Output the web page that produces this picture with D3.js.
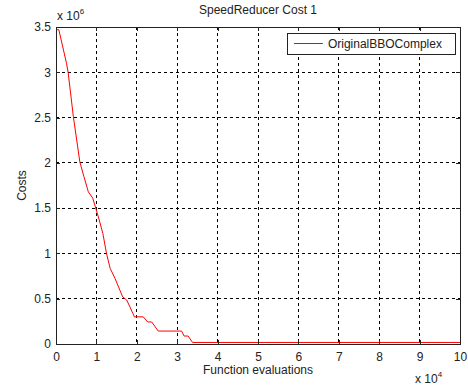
<!DOCTYPE html>
<html>
<head>
<meta charset="utf-8">
<script src="https://cdn.jsdelivr.net/npm/d3@7"></script>
<style>
  body { margin: 0; background: #fff; }
  text { font-family: "Liberation Sans", Arial, sans-serif; fill: #222; }
</style>
</head>
<body>
<svg id="chart" width="468" height="387"></svg>
<script>
// Convergence curve (x in 1e4 evals, y in 1e6 cost)
const evals = [0, 0.07, 0.26, 0.30, 0.43, 0.59, 0.69, 0.80, 0.91, 0.97, 1.07, 1.16, 1.25, 1.34, 1.46, 1.58, 1.65, 1.75, 1.83, 1.94, 2.16, 2.27, 2.37, 2.53, 3.11, 3.17, 3.27, 3.38, 10];
const costs = [3.47, 3.47, 3.10, 3.00, 2.51, 2.01, 1.85, 1.68, 1.61, 1.52, 1.37, 1.22, 1.00, 0.835, 0.725, 0.596, 0.52, 0.486, 0.41, 0.30, 0.30, 0.243, 0.243, 0.143, 0.143, 0.088, 0.088, 0.017, 0.017];
const xTicks = [0, 1, 2, 3, 4, 5, 6, 7, 8, 9, 10];
const yTicks = [0, 0.5, 1, 1.5, 2, 2.5, 3, 3.5];
const seriesName = "OriginalBBOComplex";

const svg = d3.select("#chart");
const margin = { top: 27, right: 8, bottom: 43, left: 56 };
const width = +svg.attr("width");
const height = +svg.attr("height");
const w = width - margin.left - margin.right;
const h = height - margin.top - margin.bottom;

const x = d3.scaleLinear().domain([0, 10]).range([0, w]);
const y = d3.scaleLinear().domain([0, 3.5]).range([h, 0]);

const g = svg.append("g").attr("transform", `translate(${margin.left},${margin.top})`);

// grid
g.selectAll("line.vgrid").data(xTicks.slice(1, -1)).enter().append("line")
  .attr("x1", d => x(d)).attr("x2", d => x(d)).attr("y1", 0).attr("y2", h)
  .attr("stroke", "#000").attr("stroke-dasharray", "3,3").attr("stroke-width", 1)
  .attr("shape-rendering", "crispEdges");
g.selectAll("line.hgrid").data(yTicks.slice(1, -1)).enter().append("line")
  .attr("x1", 0).attr("x2", w).attr("y1", d => y(d)).attr("y2", d => y(d))
  .attr("stroke", "#000").attr("stroke-dasharray", "3,3").attr("stroke-width", 1)
  .attr("shape-rendering", "crispEdges");

// line
const line = d3.line().x((d, i) => x(evals[i])).y(d => y(d));
g.append("path").datum(costs)
  .attr("d", line).attr("fill", "none").attr("stroke", "#ff0000").attr("stroke-width", 1);

// axes (ticks inward)
const xAxis = g.append("g").attr("transform", `translate(0,${h})`)
  .call(d3.axisBottom(x).tickValues(xTicks).tickSize(-4).tickPadding(8).tickFormat(d3.format("d")));
const yAxis = g.append("g")
  .call(d3.axisLeft(y).tickValues(yTicks).tickSize(-4).tickPadding(5).tickFormat(d => d));
g.append("g").call(d3.axisTop(x).tickValues(xTicks).tickSize(-4).tickFormat(""));
g.append("g").attr("transform", `translate(${w},0)`)
  .call(d3.axisRight(y).tickValues(yTicks).tickSize(-4).tickFormat(""));
g.selectAll(".domain, .tick line").attr("stroke", "#222").attr("shape-rendering", "crispEdges");
g.selectAll(".tick text").style("font-size", "12px").style("font-family", "Liberation Sans, Arial, sans-serif").attr("fill", "#222");

// legend
const lg = g.append("g").attr("transform", `translate(${x(5.74)},6)`);
lg.append("rect").attr("width", 168).attr("height", 21)
  .attr("fill", "#fff").attr("stroke", "#222").attr("shape-rendering", "crispEdges");
lg.append("line").attr("x1", 6).attr("x2", 35).attr("y1", 10.5).attr("y2", 10.5)
  .attr("stroke", "#ff0000");
lg.append("text").attr("x", 40).attr("y", 15).style("font-size", "12px").text(seriesName);

// titles
svg.append("text").attr("x", margin.left + w / 2).attr("y", 14)
  .attr("text-anchor", "middle").style("font-size", "12px").text("SpeedReducer Cost 1");
svg.append("text").attr("x", margin.left + w / 2).attr("y", 374)
  .attr("text-anchor", "middle").style("font-size", "12px").text("Function evaluations");
svg.append("text").attr("transform", `translate(26,${margin.top + h / 2}) rotate(-90)`)
  .attr("text-anchor", "middle").style("font-size", "12px").text("Costs");

// exponent labels
const e1 = svg.append("text").attr("x", 57).attr("y", 20).style("font-size", "12px");
e1.append("tspan").text("x 10");
e1.append("tspan").attr("dy", -6).style("font-size", "8px").text("6");
const e2 = svg.append("text").attr("x", 415).attr("y", 383).style("font-size", "12px");
e2.append("tspan").text("x 10");
e2.append("tspan").attr("dy", -6).style("font-size", "8px").text("4");
</script>
</body>
</html>
